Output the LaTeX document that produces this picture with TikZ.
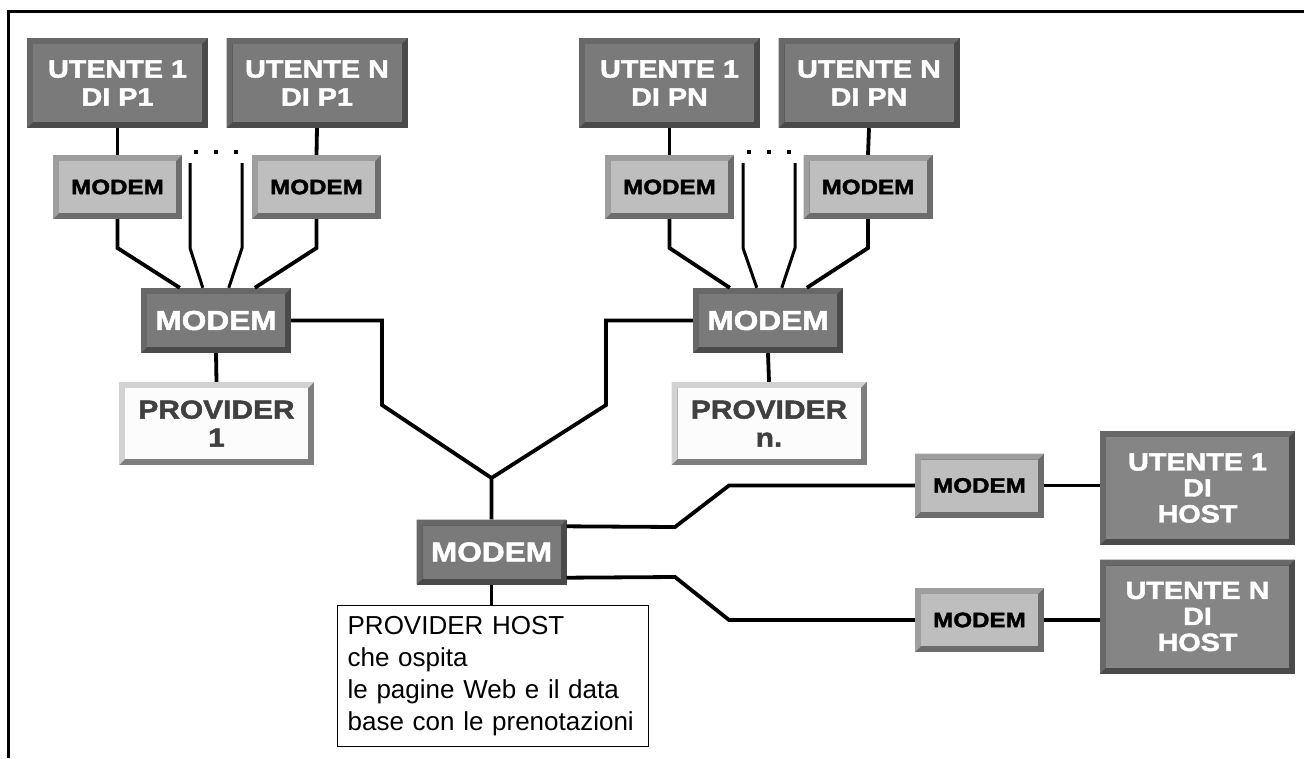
\documentclass[tikz,border=0pt]{standalone}
\usepackage{fontspec}
\setmainfont{Liberation Sans}
\newfontfamily\boxfont{Liberation Sans Bold}[FakeStretch=1.15, FakeBold=1.8]
\definecolor{darkO}{HTML}{4A4A4A}
\definecolor{darkT}{HTML}{686868}
\definecolor{darkF}{HTML}{7A7A7A}
\definecolor{hostF}{HTML}{858585}
\definecolor{modO}{HTML}{6C6C6C}
\definecolor{modT}{HTML}{9E9E9E}
\definecolor{modF}{HTML}{BEBEBE}
\definecolor{provO}{HTML}{7E7E7E}
\definecolor{provT}{HTML}{D2D2D2}
\definecolor{provF}{HTML}{FCFCFC}
\definecolor{provTxt}{HTML}{404040}
\tikzset{
  bevel/.style n args={3}{fill=#1, inner sep=0pt, align=center,
    path picture={
      \fill[#2] (path picture bounding box.south west) -- (path picture bounding box.north west)
        -- (path picture bounding box.north east) -- ++(-6pt,-6pt)
        -- ([shift={(6pt,-6pt)}]path picture bounding box.north west)
        -- ([shift={(6pt,6pt)}]path picture bounding box.south west) -- cycle;
      \fill[#3] ([shift={(6pt,-6pt)}]path picture bounding box.north west)
        rectangle ([shift={(-6pt,6pt)}]path picture bounding box.south east);
    }},
  userbox/.style={bevel={darkO}{darkT}{darkF}, text=white, minimum width=181pt, minimum height=90pt,
    font=\boxfont\fontsize{25}{28}\selectfont},
  hostuser/.style={bevel={darkO}{darkT}{hostF}, text=white, minimum width=195pt, minimum height=114pt,
    font=\boxfont\fontsize{25}{26}\selectfont},
  smallmodem/.style={bevel={modO}{modT}{modF}, text=black, minimum width=129pt, minimum height=64pt,
    font=\boxfont\fontsize{21}{24}\selectfont},
  bigmodem/.style={bevel={darkO}{darkT}{darkF}, text=white, minimum width=150pt, minimum height=65pt,
    font=\boxfont\fontsize{27.5}{30}\selectfont},
  provbox/.style={bevel={provO}{provT}{provF}, text=provTxt, minimum width=195pt, minimum height=83pt,
    font=\boxfont\fontsize{26}{28}\selectfont},
  wire/.style={draw=black, line width=3.8pt, line join=miter},
  thinwire/.style={draw=black, line width=3pt},
  notebox/.style={draw=black, line width=1.3pt, fill=white, anchor=north west, inner xsep=10pt, inner ysep=0pt,
    minimum width=311pt, minimum height=141pt, text width=291pt, align=left,
    font=\fontsize{26}{32}\selectfont},
}
\begin{document}
\begin{tikzpicture}[x=1pt,y=-1pt]
\useasboundingbox (0,0) rectangle (1304,758);
% frame
\draw[line width=3pt] (8,758) -- (8,11.5) -- (1304,11.5);

% ---- left cluster (P1)
\node[userbox] (u1p1) at (117.5,83) {UTENTE 1\\DI P1};
\node[userbox] (unp1) at (317,83) {UTENTE N\\DI P1};
\node[smallmodem] (m1p1) at (117.5,187) {MODEM};
\node[smallmodem] (mnp1) at (316.5,187) {MODEM};
\node[bigmodem] (bm1) at (216,320.5) {MODEM};
\node[provbox] (pr1) at (216.5,423.5) {PROVIDER\\1};

% ---- right cluster (PN)
\node[userbox] (u1pn) at (669.5,83) {UTENTE 1\\DI PN};
\node[userbox] (unpn) at (869,83) {UTENTE N\\DI PN};
\node[smallmodem] (m1pn) at (669.5,187) {MODEM};
\node[smallmodem] (mnpn) at (868,187) {MODEM};
\node[bigmodem] (bm2) at (768,320.5) {MODEM};
\node[provbox] (prn) at (769,423.5) {PROVIDER\\n.};

% ---- host
\node[bigmodem] (hm) at (491.5,552) {MODEM};
\node[notebox] (ph) at (337,605) {PROVIDER HOST\\che ospita\\le pagine Web e il data\\base con le prenotazioni};
\node[smallmodem] (hm1) at (979.5,485.5) {MODEM};
\node[smallmodem] (hm2) at (979.5,620) {MODEM};
\node[hostuser] (uh1) at (1197.5,488) {UTENTE 1\\DI\\HOST};
\node[hostuser] (uhn) at (1197.5,616.5) {UTENTE N\\DI\\HOST};

% ---- coordinates
\coordinate (ja) at (117.5,248);
\coordinate (jb) at (316.5,248);
\coordinate (d1t) at (190,163);
\coordinate (d1b) at (190,248);
\coordinate (d2t) at (242,163);
\coordinate (d2b) at (242,248);
\coordinate (jc) at (669.5,248);
\coordinate (jd) at (868,248);
\coordinate (d3t) at (743,163);
\coordinate (d3b) at (743,248);
\coordinate (d4t) at (795,163);
\coordinate (d4b) at (795,248);
\coordinate (junc) at (491.5,478);
\coordinate (l1) at (382,320.5);
\coordinate (l2) at (382,405);
\coordinate (r1) at (606,320.5);
\coordinate (r2) at (606,405);
\coordinate (h1a) at (675,527);
\coordinate (h1b) at (729,485.5);
\coordinate (h2a) at (675,577);
\coordinate (h2b) at (729,620);

% ---- connectors left
\draw[wire] (u1p1.south) -- (m1p1.north);
\draw[wire] (unp1.south) -- (mnp1.north);
\draw[wire] (m1p1.south) -- (ja) -- ([xshift=39pt]bm1.north west);
\draw[wire] (mnp1.south) -- (jb) -- ([xshift=114pt]bm1.north west);
\draw[thinwire] (d1t) -- (d1b) -- ([xshift=62pt]bm1.north west);
\draw[thinwire] (d2t) -- (d2b) -- ([xshift=88pt]bm1.north west);
\draw[wire] (bm1.south) -- (pr1.north);

% ---- connectors right
\draw[wire] (u1pn.south) -- (m1pn.north);
\draw[wire] (unpn.south) -- (mnpn.north);
\draw[wire] (m1pn.south) -- (jc) -- ([xshift=37pt]bm2.north west);
\draw[wire] (mnpn.south) -- (jd) -- ([xshift=114pt]bm2.north west);
\draw[thinwire] (d3t) -- (d3b) -- ([xshift=64pt]bm2.north west);
\draw[thinwire] (d4t) -- (d4b) -- ([xshift=89pt]bm2.north west);
\draw[wire] (bm2.south) -- (prn.north);

% ---- dots
\foreach \dx in {196,216,236,749,769,789}
  \fill (\dx-2,150) rectangle (\dx+2,154);

% ---- to host
\draw[wire] (bm1.east) -- (l1) -- (l2) -- (junc) -- (hm.north);
\draw[wire] (bm2.west) -- (r1) -- (r2) -- (junc);
\draw[wire] (hm.south) -- (ph.north -| hm.south);
\draw[wire] ([yshift=-7pt]hm.north east) -- (h1a) -- (h1b) -- (hm1.west);
\draw[wire] ([yshift=7pt]hm.south east) -- (h2a) -- (h2b) -- (hm2.west);
\draw[wire] (hm1.east) -- (hm1.east -| uh1.west);
\draw[wire] (hm2.east) -- (hm2.east -| uhn.west);
\end{tikzpicture}
\end{document}
